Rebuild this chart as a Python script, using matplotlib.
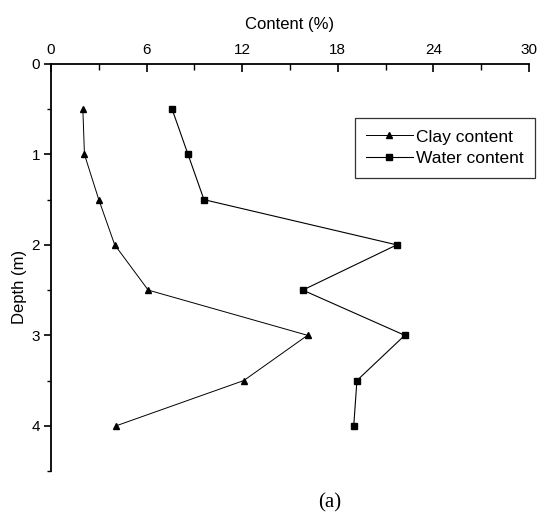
import matplotlib.pyplot as plt
from matplotlib.ticker import MultipleLocator

depth = [0.5, 1.0, 1.5, 2.0, 2.5, 3.0, 3.5, 4.0]
clay = [2.0, 2.1, 3.0, 4.0, 6.1, 16.1, 12.1, 4.1]
water = [7.6, 8.6, 9.6, 21.7, 15.8, 22.2, 19.2, 19.0]

plt.rcParams['font.family'] = ['Liberation Sans', 'DejaVu Sans']

fig = plt.figure(figsize=(5.39, 5.27), dpi=100)
ax = fig.add_axes([0.0946, 0.1063, 0.8869, 0.7723])

ax.plot(clay, depth, color='black', lw=0.7, marker='^', ms=5, label='Clay content')
ax.plot(water, depth, color='black', lw=0.8, marker='s', ms=4, label='Water content')

ax.set_xlim(0, 30)
ax.set_ylim(4.5, 0)
ax.xaxis.set_ticks_position('top')
ax.xaxis.set_label_position('top')
ax.xaxis.set_major_locator(MultipleLocator(6))
ax.xaxis.set_minor_locator(MultipleLocator(3))
ax.yaxis.set_major_locator(MultipleLocator(1))
ax.yaxis.set_minor_locator(MultipleLocator(0.5))

for s in ['right', 'bottom']:
    ax.spines[s].set_visible(False)
ax.spines['top'].set_linewidth(1.3)
ax.spines['left'].set_linewidth(1.3)

ax.tick_params(axis='x', which='major', direction='in', length=6, width=1.2, labelsize=11, pad=5)
ax.tick_params(axis='x', which='minor', direction='in', length=4, width=1.0)
ax.tick_params(axis='y', which='major', direction='out', length=5, width=1.2, labelsize=11, pad=3)
ax.tick_params(axis='y', which='minor', direction='out', length=3, width=1.0)

ax.set_xlabel('Content (%)', fontsize=12, labelpad=10)
ax.set_ylabel('Depth (m)', fontsize=12)
ax.yaxis.set_label_coords(-0.05, 0.452)

leg = ax.legend(loc='upper right', bbox_to_anchor=(1.013, 0.867), borderaxespad=0,
                frameon=True, fancybox=False, edgecolor='black', fontsize=12.5,
                handlelength=2.7, handletextpad=0.2, borderpad=0.65, labelspacing=0.38)
leg.get_frame().set_linewidth(0.9)

fig.text(0.612, 0.0455, '(a)', family='Liberation Serif', fontsize=15, ha='center', va='center')

fig.savefig('out.png', dpi=100)
